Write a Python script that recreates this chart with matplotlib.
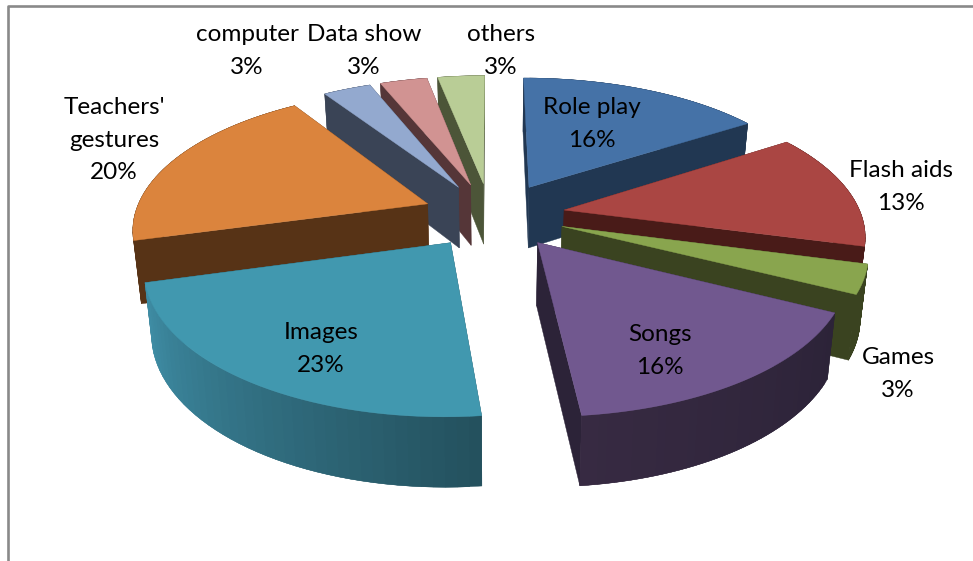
import numpy as np
import matplotlib
matplotlib.use("Agg")
import matplotlib.pyplot as plt
from matplotlib.colors import to_rgb
from matplotlib.patches import Polygon
from matplotlib.lines import Line2D

plt.rcParams["font.family"] = ["Lato", "DejaVu Sans"]

# data
labels = ["Role play", "Flash aids", "Games", "Songs", "Images", "Teachers'\ngestures", "computer", "Data show", "others"]
values = [16.1, 12.9, 3.2, 16.1, 22.6, 19.5, 3.2, 3.2, 3.2]

# colours: top face, wall at one end of the arc, wall at the other end
top_colors = ["#4572A7", "#AA4643", "#89A54E", "#71588F", "#4198AF", "#DB843D", "#93A9CF", "#D19392", "#B9CD96"]
wall_a = ["#213752", "#491B18", "#3A4320", "#2C2338", "#24515E", "#573316", "#3A4456", "#553638", "#4C5538"]
wall_b = ["#213752", "#491B18", "#3A4320", "#372A42", "#3F8EA6", "#573316", "#3A4456", "#553638", "#4C5538"]

# layout, in pixels of the 973x561 picture
cx, cy = 497, 215
rx, ry = 297, 142
# the slices on the left sit a little further out than those on the right
cx_left, rx_left = 490, 293
persp = 0.164
explode = 0.23
draw_order = [8, 7, 6, 0, 5, 1, 2, 4, 3]
label_xy = [(592, 124), (901, 187), (898, 374), (660, 351), (321, 349), (114, 140), (247, 51), (364, 51), (501, 51)]


def project(u, v, x0, xr):
    s = 1 - persp * v
    return x0 + xr * u * s, cy - ry * v * s


def drop(x, y, v, x0):
    # bottom of the wall under a top point, a bit deeper towards the viewer
    depth = 62 - 7 * v
    return x0 + (x - x0) * 0.978, y + depth


def poly(ax, pts, color, z):
    ax.add_patch(Polygon(pts, closed=True, facecolor=color, edgecolor=color, linewidth=0.3, zorder=z))


fig = plt.figure(figsize=(9.73, 5.61), dpi=100)
ax = fig.add_axes([0, 0, 1, 1])
ax.set_xlim(0, 973)
ax.set_ylim(561, 0)
ax.axis("off")

# chart frame
ax.add_line(Line2D([8, 8, 973], [561, 5.5, 5.5], color="#898989", linewidth=1.9))

total = sum(values)
edges = np.cumsum([0] + values) / total * 2 * np.pi

z = 1
for i in draw_order:
    a0, a1 = edges[i], edges[i + 1]
    mid = (a0 + a1) / 2
    x0, xr = (cx_left, rx_left) if np.sin(mid) < 0 else (cx, rx)
    tu, tv = explode * np.sin(mid), explode * np.cos(mid)
    angs = np.linspace(a0, a1, 41)
    arc_v = tv + np.cos(angs)
    arc = [project(tu + np.sin(a), tv + np.cos(a), x0, xr) for a in angs]
    tip = project(tu, tv, x0, xr)
    tip_low = drop(tip[0], tip[1], tv, x0)
    arc_low = [drop(p[0], p[1], v, x0) for p, v in zip(arc, arc_v)]

    # radial walls, the one further back first
    c_a = np.array(to_rgb(wall_a[i]))
    c_b = np.array(to_rgb(wall_b[i]))
    walls = [
        (arc[0][1], [tip, arc[0], arc_low[0], tip_low]),
        (arc[-1][1], [tip, arc[-1], arc_low[-1], tip_low]),
    ]
    walls.sort(key=lambda w: w[0])
    for _, pts in walls:
        poly(ax, pts, wall_a[i], z)
        z += 1

    # outer wall, shaded along the arc; each piece runs under the next so no seams show
    n = len(angs)
    for k in range(n - 1):
        t = k / (n - 2)
        col = tuple(c_a + (c_b - c_a) * t)
        end = min(k + 3, n)
        upper = arc[k:end]
        lower = arc_low[k:end]
        poly(ax, upper + lower[::-1], col, z)
        z += 1

    # top face
    poly(ax, [tip] + arc, top_colors[i], z)
    z += 1

for name, val, (x, y) in zip(labels, values, label_xy):
    pct = f"{val / total * 100:.0f}%"
    ax.text(x, y, f"{name}\n{pct}", ha="center", va="center", fontsize=17.5, color="black", linespacing=1.65, zorder=1000)

fig.savefig("out.png", dpi=100)
